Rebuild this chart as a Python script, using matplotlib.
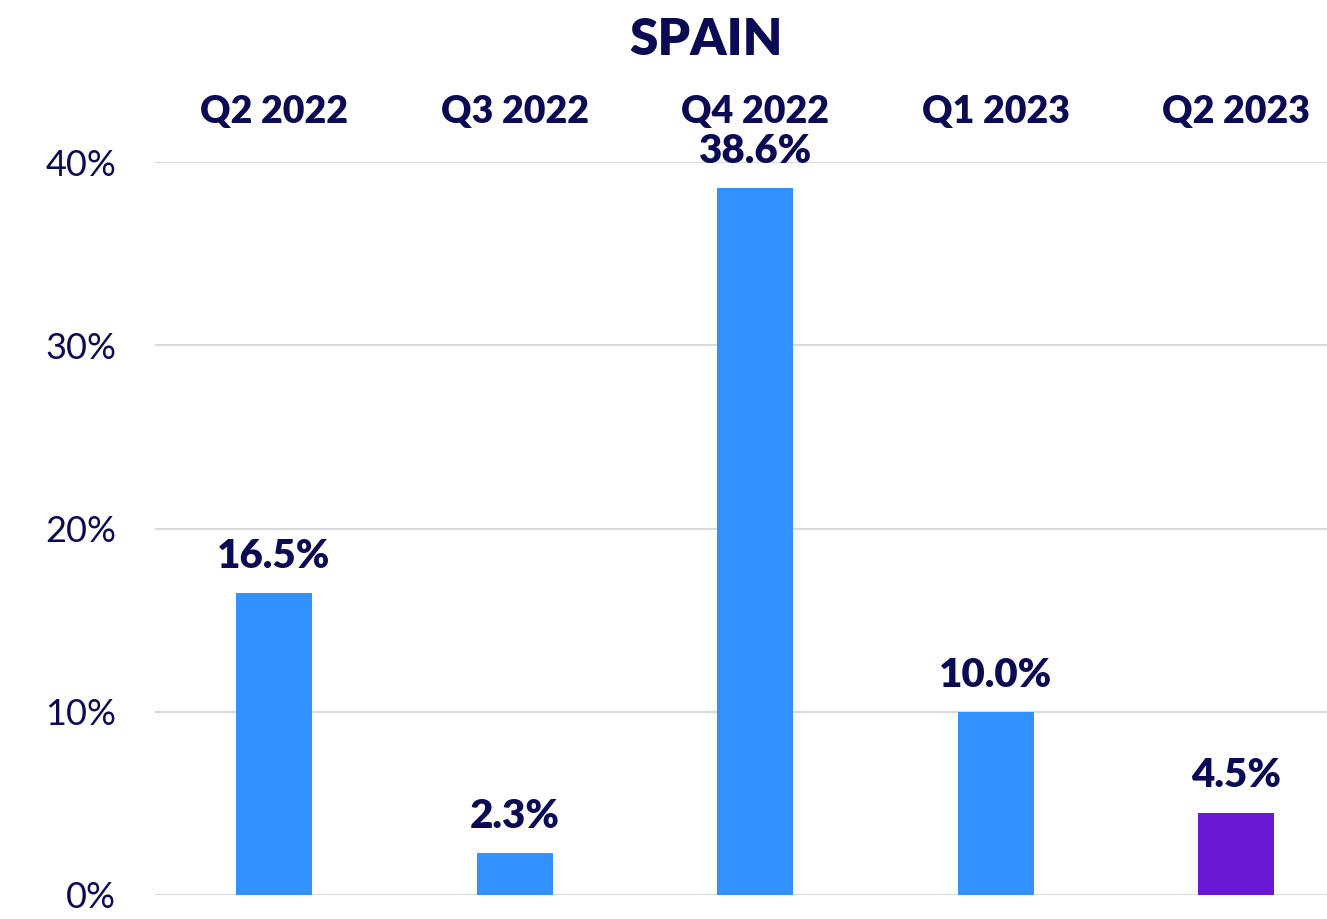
import matplotlib.pyplot as plt

plt.rcParams['font.family'] = ['Lato', 'DejaVu Sans']

quarters = ['Q2 2022', 'Q3 2022', 'Q4 2022', 'Q1 2023', 'Q2 2023']
values = [16.5, 2.3, 38.6, 10.0, 4.5]
labels = ['16.5%', '2.3%', '38.6%', '10.0%', '4.5%']
yticks = [0, 10, 20, 30, 40]

navy = '#0b0a55'
blue = '#3390ff'
purple = '#6a18d4'
colors = [blue, blue, blue, blue, purple]

W, H = 1327, 919
fig = plt.figure(figsize=(W / 100, H / 100), dpi=100)

step = 240.5
x_lo, x_hi = -0.495, 4.5
ax = fig.add_axes([155 / W, (H - 895) / H, (x_hi - x_lo) * step / W, (895 - 162) / H])

x = range(len(quarters))
ax.bar(x, values, width=0.316, color=colors, zorder=3)
ax.set_xlim(x_lo, x_hi)
ax.set_ylim(0, 40)

ax.set_yticks(yticks)
ax.set_yticklabels([f'{t}%' for t in yticks], fontsize=26, color=navy)
ax.tick_params(axis='y', length=0, pad=28)
ax.set_xticks([])
ax.yaxis.grid(True, color='#d9d9d9', linewidth=1.5, zorder=0)
for s in ax.spines.values():
    s.set_visible(False)

for i, (v, lab) in enumerate(zip(values, labels)):
    ax.annotate(lab, (i, v), xytext=(0, 13), textcoords='offset points',
                ha='center', va='bottom', fontsize=29, fontweight='heavy', color=navy)

# category labels above the plot
for i, q in enumerate(quarters):
    ax.annotate(q, (i, 1), xycoords=('data', 'axes fraction'), xytext=(0, 36),
                textcoords='offset points', ha='center', va='center',
                fontsize=27, fontweight='heavy', color=navy)

fig.text(706 / W, 1 - 40 / H, 'SPAIN', ha='center', va='center',
         fontsize=37, fontweight='heavy', color=navy)

fig.savefig('out.png', dpi=100)
